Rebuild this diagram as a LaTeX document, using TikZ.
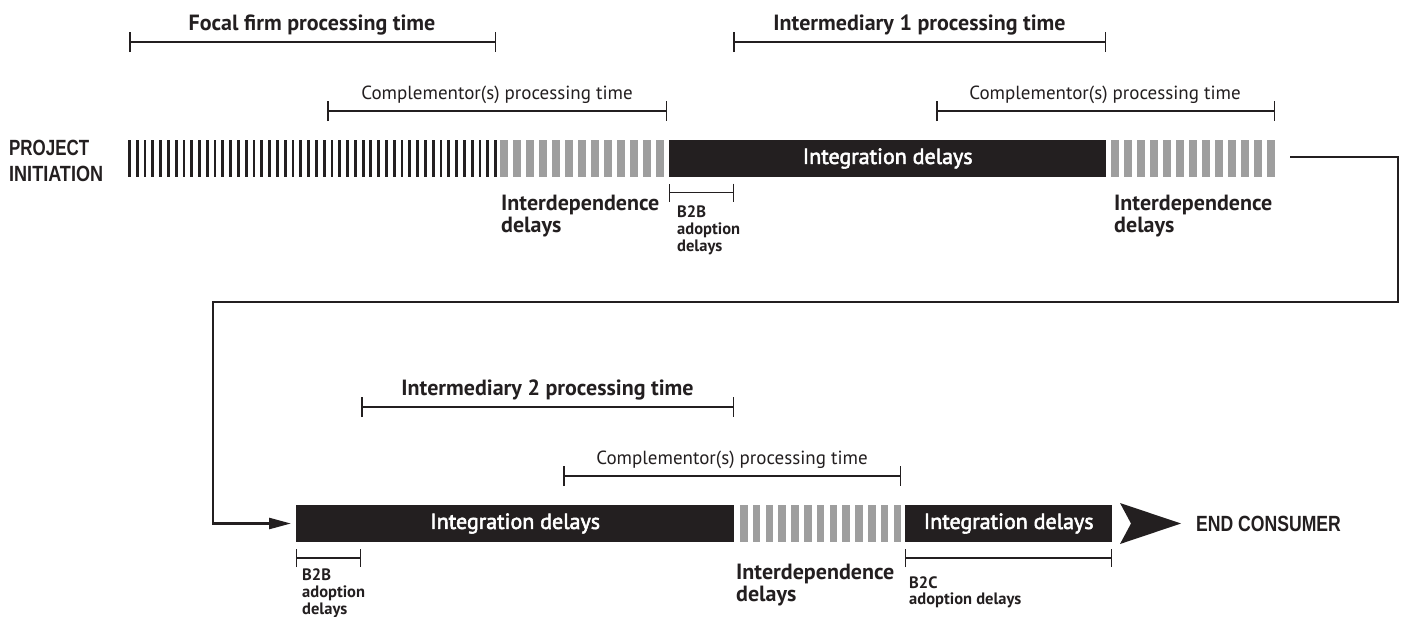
\documentclass[tikz,border=0pt]{standalone}
\usepackage{fontspec}
\usepackage{graphicx}
\setmainfont{PT Sans}
\newfontfamily\semib{PT Sans}[FakeBold=2.5]
\newfontfamily\cond{Liberation Sans}
\usetikzlibrary{arrows.meta}
\definecolor{ink}{RGB}{35,31,32}
\definecolor{stripegrey}{RGB}{158,158,158}
\tikzset{
  bar/.style={fill=ink, text=white, minimum height=37pt, inner sep=0pt, anchor=west,
    font=\semib\fontsize{22}{22}\selectfont},
  spanline/.style={line width=1.5pt, draw=ink, {Bar[width=20pt,line width=1.5pt]}-{Bar[width=20pt,line width=1.5pt]}},
  smallspan/.style={line width=1.2pt, draw=ink, {Bar[width=18pt,line width=1.2pt]}-{Bar[width=18pt,line width=1.2pt]}},
  title/.style={font=\bfseries\fontsize{22}{22}\selectfont, text=ink, inner sep=0pt},
  comp/.style={font=\fontsize{19}{19}\selectfont, text=ink, inner sep=0pt},
  delay/.style={font=\bfseries\fontsize{22}{22}\selectfont, text=ink, inner sep=0pt, anchor=base west},
  small/.style={font=\bfseries\fontsize{16.5}{16.5}\selectfont, text=ink, inner sep=0pt, anchor=base west},
  caps/.style={font=\cond\bfseries\fontsize{22}{22}\selectfont, text=ink, inner sep=0pt, anchor=base west},
  conn/.style={line width=2.5pt, draw=ink, line cap=butt},
}
\begin{document}
\begin{tikzpicture}[x=1pt,y=-1pt]
\useasboundingbox (0,0) rectangle (1402,616);
\fill[white] (0,0) rectangle (1402,616);

% ---------- top row ----------
\node[caps] (pi1) at (9,155) {\scalebox{0.77}[1]{PROJECT}};
\node[caps] (pi2) at (9,181.5) {\scalebox{0.82}[1]{INITIATION}};

\foreach \i in {0,...,47} \fill[ink] ({128+\i*7.79},140) rectangle +(2.8,37);
\foreach \i in {0,...,12} \fill[stripegrey] ({500+\i*13},140) rectangle +(7.5,37);
\node[bar, minimum width=437pt] (int1) at (669,158.5) {Integration delays};
\foreach \i in {0,...,12} \fill[stripegrey] ({1111+\i*13},140) rectangle +(7.5,37);

% spans top
\coordinate (f1) at (129,42); \coordinate (f2) at (496,42);
\draw[spanline] (f1) -- (f2);
\node[title] (focal) at (312,25) {Focal firm processing time};
\coordinate (i1a) at (733,42); \coordinate (i1b) at (1106,42);
\draw[spanline] (i1a) -- (i1b);
\node[title] (inter1) at (919.5,25) {Intermediary 1 processing time};
\coordinate (c1a) at (327,111); \coordinate (c1b) at (667,111);
\draw[spanline] (c1a) -- (c1b);
\node[comp] (comp1) at (497,95) {Complementor(s) processing time};
\coordinate (c2a) at (936,111); \coordinate (c2b) at (1275,111);
\draw[spanline] (c2a) -- (c2b);
\node[comp] (comp2) at (1105,95) {Complementor(s) processing time};

% under top row
\coordinate (b1a) at (669,192.5); \coordinate (b1b) at (734,192.5);
\draw[smallspan] (b1a) -- (b1b);
\node[small] (b2b1) at (677,217) {B2B};
\node[small] (b2b2) at (677,234) {adoption};
\node[small] (b2b3) at (677,251) {delays};
\node[delay] (id1a) at (501,210) {Interdependence};
\node[delay] (id1b) at (501,232) {delays};
\node[delay] (id2a) at (1114,210) {Interdependence};
\node[delay] (id2b) at (1114,232) {delays};

% ---------- bottom row ----------
\node[bar, minimum width=438pt] (int2) at (296,523.5) {Integration delays};
\foreach \i in {0,...,12} \fill[stripegrey] ({740+\i*12.8},505) rectangle +(7.5,37);
\node[bar, minimum width=207pt] (int3) at (905,523.5) {Integration delays};
\coordinate (tipA) at (1120,503);
\fill[ink] (tipA) -- (1181,523.5) -- (1120,544) -- (1131,523.5) -- cycle;
\node[caps] (endc) at (1196,531.5) {\scalebox{0.8}[1]{END CONSUMER}};

\coordinate (i2a) at (361,407); \coordinate (i2b) at (734,407);
\draw[spanline] (i2a) -- (i2b);
\node[title] (inter2) at (547.5,390) {Intermediary 2 processing time};
\coordinate (c3a) at (563,476); \coordinate (c3b) at (901,476);
\draw[spanline] (c3a) -- (c3b);
\node[comp] (comp3) at (732,460) {Complementor(s) processing time};

\coordinate (b2a) at (296,558); \coordinate (b2b) at (361,558);
\draw[smallspan] (b2a) -- (b2b);
\node[small] (b2b4) at (302,580) {B2B};
\node[small] (b2b5) at (302,597) {adoption};
\node[small] (b2b6) at (302,614) {delays};
\node[delay] (id3a) at (736,579) {Interdependence};
\node[delay] (id3b) at (736,601) {delays};
\coordinate (b3a) at (905,558); \coordinate (b3b) at (1112,558);
\draw[smallspan] (b3a) -- (b3b);
\node[small] (b2c1) at (909,588) {B2C};
\node[small] (b2c2) at (909,604) {adoption delays};

% ---------- connector ----------
\coordinate (cstart) at (1290,157);
\draw[conn, -{Triangle[length=22pt,width=11pt]}] (cstart) -- ++(108,0) -- ++(0,145) -- ++(-1185,0) |- ([xshift=-5pt]int2.west);
\end{tikzpicture}
\end{document}
